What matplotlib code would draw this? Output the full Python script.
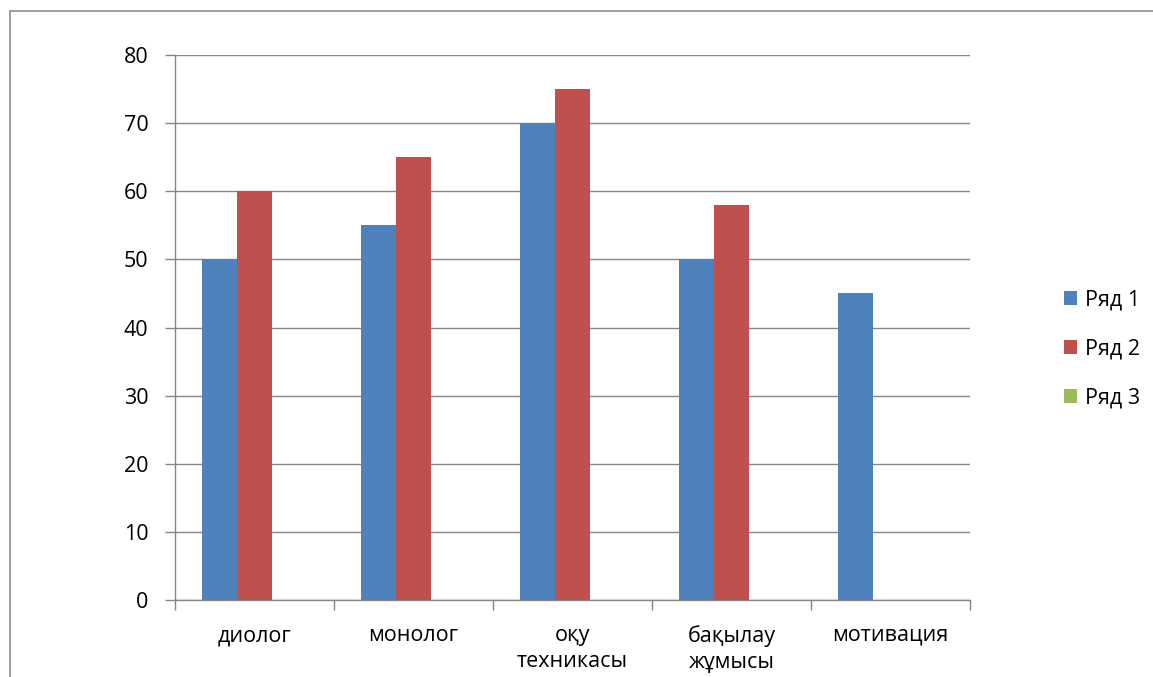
import numpy as np
import matplotlib.pyplot as plt
from matplotlib.patches import Rectangle

categories = ['диолог', 'монолог', 'оқу\nтехникасы', 'бақылау\nжұмысы', 'мотивация']
series_names = ['Ряд 1', 'Ряд 2', 'Ряд 3']
row1 = [50, 55, 70, 50, 45]
row2 = [60, 65, 75, 58, 0]
row3 = [0, 0, 0, 0, 0]
colors = ['#4F81BD', '#C0504D', '#9BBB59']

plt.rcParams['font.family'] = ['Open Sans', 'DejaVu Sans']

fig = plt.figure(figsize=(11.53, 6.77), dpi=100)
ax = fig.add_axes([175 / 1153, 1 - 600 / 677, 795 / 1153, 545 / 677])

# outer chart border (cropped at right and bottom)
fig.patches.append(Rectangle((10 / 1153, -0.1), 1.2, 1.1 - 11 / 677, transform=fig.transFigure,
                             fill=False, edgecolor='#8c8c8c', linewidth=1.2))

x = np.arange(len(categories))
w = 1 / 4.5
for i, (vals, name) in enumerate(zip([row1, row2, row3], series_names)):
    ax.bar(x + (i - 1) * w, vals, width=w, color=colors[i], label=name, zorder=3)

ax.set_xlim(-0.5, len(categories) - 0.5)
ax.set_ylim(0, 80)
ax.set_yticks(range(0, 81, 10))
ax.yaxis.grid(True, color='#868686', linewidth=1, zorder=0)

ax.set_xticks(np.arange(-0.5, len(categories), 1))
ax.set_xticklabels([])
ax.set_xticks(x, minor=True)
ax.set_xticklabels(categories, minor=True, fontsize=15.5, linespacing=1.3, va='top')
ax.tick_params(axis='x', which='minor', length=0, pad=18)
ax.tick_params(axis='x', which='major', length=7, color='#868686', width=1)
ax.tick_params(axis='y', length=7, color='#868686', width=1, labelsize=15.5, pad=12)

for s in ['top', 'right']:
    ax.spines[s].set_visible(False)
for s in ['left', 'bottom']:
    ax.spines[s].set_color('#868686')
    ax.spines[s].set_linewidth(1)

leg = fig.legend(loc='upper left', bbox_to_anchor=(1045 / 1153, 1 - 270 / 677), frameon=False,
                 fontsize=15.5, handlelength=0.6, handleheight=0.6, handletextpad=0.35,
                 labelspacing=1.3)

fig.savefig('out.png', dpi=100)
